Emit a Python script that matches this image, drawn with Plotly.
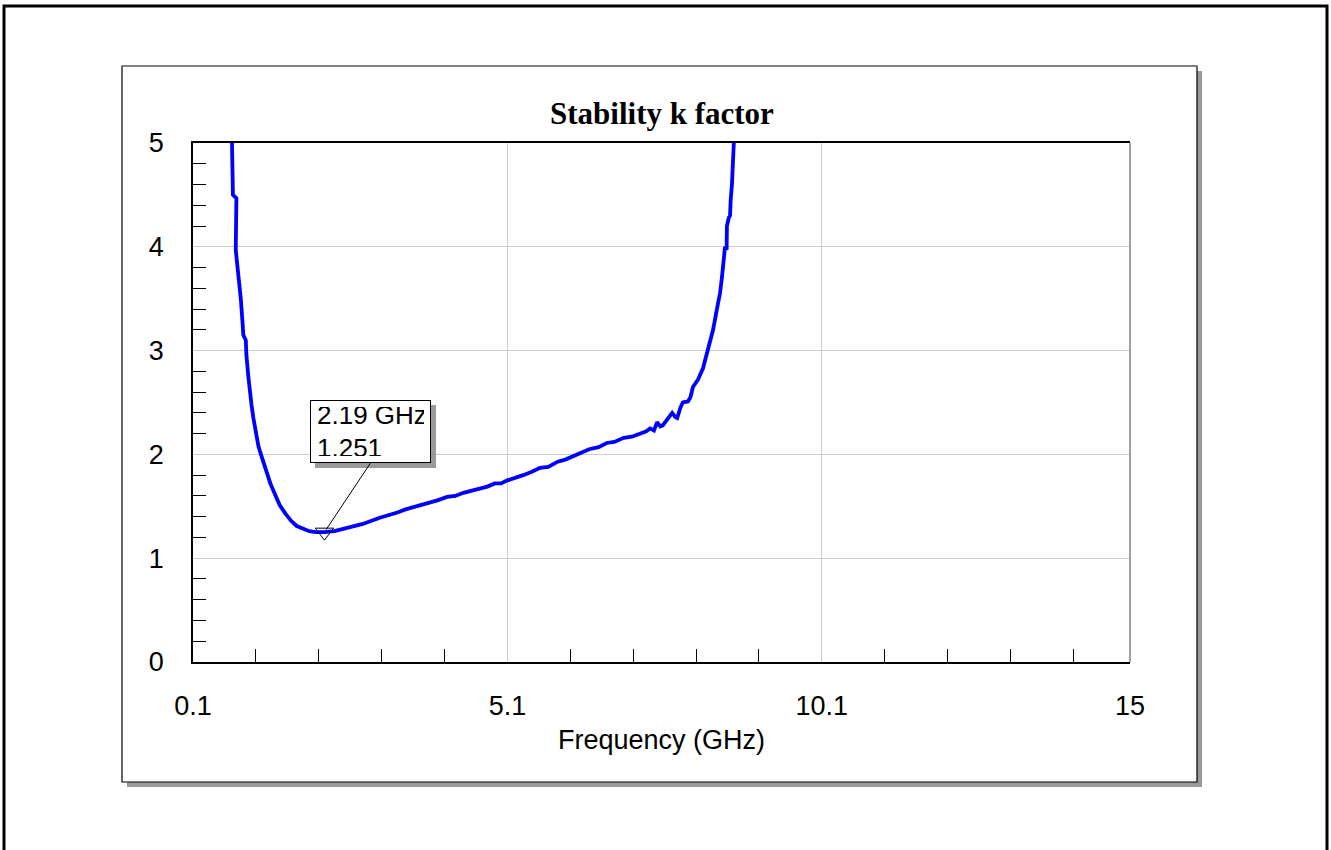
import plotly.graph_objects as go

# Stability k factor vs frequency (GHz)
freq_ghz = [0.72, 0.725, 0.73, 0.735, 0.79, 0.785, 0.78, 0.80, 0.83, 0.86, 0.89, 0.90,
            0.94, 0.95, 0.98, 1.01, 1.03, 1.06, 1.10, 1.14, 1.18, 1.22, 1.27, 1.33,
            1.40, 1.48, 1.57, 1.66, 1.75, 1.85, 1.95, 2.05, 2.19, 2.35, 2.55, 2.80,
            3.07, 3.20, 3.35, 3.48, 3.60, 3.72, 3.85, 4.00, 4.14, 4.27, 4.40, 4.53,
            4.66, 4.78, 4.90, 5.00, 5.10, 5.22, 5.35, 5.48, 5.62, 5.75, 5.90, 6.02,
            6.14, 6.27, 6.40, 6.55, 6.68, 6.80, 6.95, 7.08, 7.21, 7.30, 7.37, 7.43,
            7.48, 7.53, 7.57, 7.65, 7.72, 7.77, 7.80, 7.85, 7.89, 7.97, 8.01, 8.05,
            8.13, 8.21, 8.29, 8.37, 8.45, 8.48, 8.51, 8.54, 8.56, 8.585, 8.59, 8.62,
            8.64, 8.65, 8.67, 8.70]
k_factor = [5.00, 4.85, 4.68, 4.50, 4.47, 4.20, 3.97, 3.85, 3.70, 3.50, 3.25, 3.15,
            3.10, 2.95, 2.75, 2.55, 2.48, 2.35, 2.20, 2.08, 2.00, 1.92, 1.82, 1.72,
            1.62, 1.51, 1.43, 1.36, 1.31, 1.28, 1.26, 1.252, 1.251, 1.26, 1.29, 1.33,
            1.39, 1.41, 1.44, 1.47, 1.49, 1.51, 1.53, 1.56, 1.59, 1.60, 1.63, 1.65,
            1.67, 1.69, 1.72, 1.72, 1.75, 1.77, 1.80, 1.83, 1.87, 1.88, 1.93, 1.95,
            1.98, 2.01, 2.05, 2.07, 2.11, 2.12, 2.16, 2.17, 2.20, 2.22, 2.25, 2.23,
            2.31, 2.27, 2.28, 2.34, 2.40, 2.36, 2.35, 2.45, 2.50, 2.51, 2.55, 2.65,
            2.72, 2.83, 3.00, 3.20, 3.46, 3.55, 3.70, 3.85, 4.00, 3.97, 4.20, 4.28,
            4.30, 4.45, 4.60, 5.00]

marker_freq = [2.19]
marker_k = [1.251]
marker_text = "2.19 GHz<br>1.251"

x_tick_vals = [0.1, 5.1, 10.1, 15]
x_tick_text = ["0.1", "5.1", "10.1", "15"]
x_minor_vals = [1.1, 2.1, 3.1, 4.1, 6.1, 7.1, 8.1, 9.1, 11.1, 12.1, 13.1, 14.1]
y_tick_vals = [0, 1, 2, 3, 4, 5]
y_minor_vals = [v / 5 for v in range(26) if v % 5 != 0]

W, H = 1331, 850
L, R, T, B = 193, 1331 - 1130, 143, 850 - 662
PW, PH = W - L - R, H - T - B


def px(x):
    return (x - L) / PW


def py(y):
    return (H - B - y) / PH


fig = go.Figure()
fig.add_trace(go.Scatter(x=freq_ghz, y=k_factor, mode="lines",
                         line=dict(color="#0000ff", width=3.8), showlegend=False,
                         hoverinfo="skip"))
fig.add_trace(go.Scatter(x=marker_freq, y=marker_k, mode="markers",
                         marker=dict(symbol="triangle-down-open", size=16,
                                     color="black", line=dict(width=1, color="black")),
                         showlegend=False))

font_main = dict(family="Liberation Sans, Arial, sans-serif", size=27, color="black")

shapes = [
    # outer frame
    dict(type="rect", xref="paper", yref="paper", x0=px(4), x1=px(1327), y0=py(856), y1=py(6),
         line=dict(color="black", width=3), layer="below"),
    # inner box shadow
    dict(type="rect", xref="paper", yref="paper", x0=px(127), x1=px(1202), y0=py(787), y1=py(71),
         line=dict(width=0), fillcolor="#9a9a9a", layer="below"),
    # inner box
    dict(type="rect", xref="paper", yref="paper", x0=px(122), x1=px(1197), y0=py(782), y1=py(66),
         line=dict(color="black", width=1.2), fillcolor="white", layer="below"),
    dict(type="line", xref="paper", yref="paper", x0=px(122), x1=px(1197), y0=py(66), y1=py(66),
         line=dict(color="#808080", width=1.5), layer="below"),
    # right edge of plot area
    dict(type="line", xref="paper", yref="paper", x0=1, x1=1, y0=0, y1=1,
         line=dict(color="#808080", width=1.5)),
]

annotations = [
    dict(text="<b>Stability k factor</b>", xref="paper", yref="paper", x=0.5, y=py(114),
         xanchor="center", yanchor="middle", showarrow=False,
         font=dict(family="Liberation Serif, Times New Roman, serif", size=31, color="black")),
    dict(text="Frequency (GHz)", xref="paper", yref="paper", x=0.5, y=py(740),
         xanchor="center", yanchor="middle", showarrow=False, font=font_main),
    # marker label shadow (box only)
    dict(text=" ", x=marker_freq[0], y=marker_k[0], xref="x", yref="y",
         showarrow=True, arrowcolor="rgba(0,0,0,0)", ax=46, ay=-69,
         xanchor="center", yanchor="bottom", xshift=5, yshift=-5,
         width=107, height=49, align="left", valign="middle",
         bgcolor="#9a9a9a", bordercolor="#9a9a9a", borderwidth=1, borderpad=6,
         font=dict(family="Liberation Sans, Arial, sans-serif", size=25, color="#9a9a9a")),
    # marker label
    dict(text=marker_text, x=marker_freq[0], y=marker_k[0], xref="x", yref="y",
         showarrow=True, arrowhead=0, arrowwidth=1, arrowcolor="black", ax=46, ay=-69,
         standoff=3, xanchor="center", yanchor="bottom",
         width=107, height=49, align="left", valign="middle",
         bgcolor="white", bordercolor="black", borderwidth=1, borderpad=6,
         font=dict(family="Liberation Sans, Arial, sans-serif", size=26, color="black")),
]

fig.update_layout(
    width=W, height=H, autosize=False,
    margin=dict(l=L, r=R, t=T, b=B, pad=0),
    paper_bgcolor="white", plot_bgcolor="white",
    shapes=shapes, annotations=annotations,
    xaxis=dict(range=[0.1, 15], tickmode="array", tickvals=x_tick_vals, ticktext=x_tick_text,
               ticks="", showgrid=True, gridcolor="#cccccc", gridwidth=1,
               showline=True, linecolor="black", linewidth=1.5, mirror=True,
               zeroline=False, tickfont=font_main, ticklabelstandoff=19,
               minor=dict(tickmode="array", tickvals=x_minor_vals, ticks="inside",
                          ticklen=13, tickcolor="black", tickwidth=1, showgrid=False)),
    yaxis=dict(range=[0, 5], tickmode="array", tickvals=y_tick_vals,
               ticks="", showgrid=True, gridcolor="#cccccc", gridwidth=1,
               showline=True, linecolor="black", linewidth=1.5, mirror=False,
               zeroline=False, tickfont=font_main, ticklabelstandoff=22,
               minor=dict(tickmode="array", tickvals=y_minor_vals, ticks="inside",
                          ticklen=13, tickcolor="black", tickwidth=1, showgrid=False)),
)

fig.write_html("out.html")
